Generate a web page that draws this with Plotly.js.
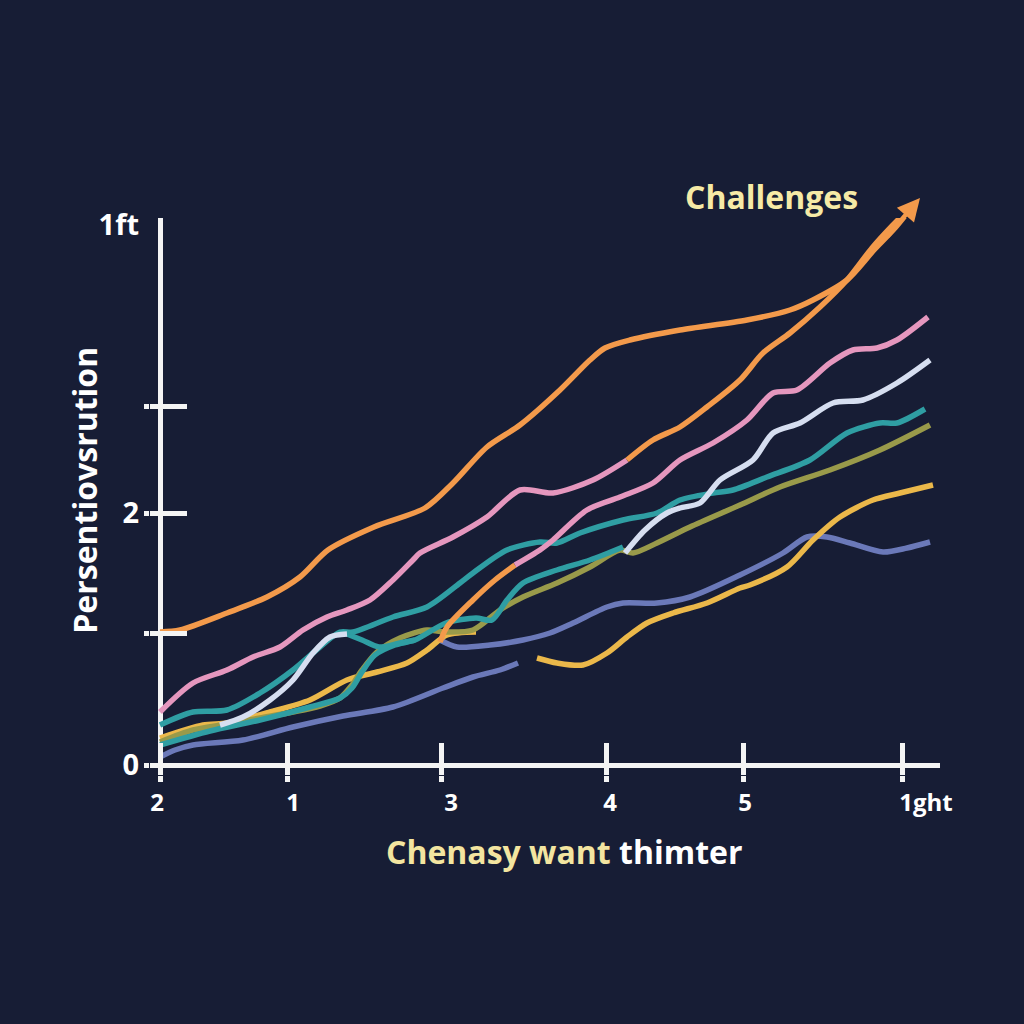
<!DOCTYPE html>
<html>
<head>
<meta charset="utf-8">
<script src="https://cdn.plot.ly/plotly-3.0.1.min.js"></script>
<style>html,body{margin:0;padding:0;background:#171d35;}#chart{width:1024px;height:1024px;}</style>
</head>
<body>
<div id="chart"></div>
<script>
// ---- data ----
const orangeAx = [0, 0.20, 0.67, 1.07, 1.40, 1.68, 2.14, 2.65, 2.93, 3.27, 3.60, 4.00, 4.30, 4.45, 4.70, 5.20, 5.87, 6.30, 6.53, 6.87, 7.14, 7.35, 7.55];
const orangeAy = [1.33, 1.35, 1.52, 1.68, 1.88, 2.15, 2.38, 2.57, 2.82, 3.18, 3.40, 3.75, 4.05, 4.17, 4.25, 4.35, 4.45, 4.55, 4.65, 4.85, 5.15, 5.37, 5.62];

const orangeBx = [4.67, 4.93, 5.20, 5.47, 5.80, 6.03, 6.30, 6.60, 6.87, 7.12, 7.33, 7.55];
const orangeBy = [3.05, 3.25, 3.38, 3.58, 3.85, 4.12, 4.32, 4.58, 4.85, 5.17, 5.40, 5.62];

const orangeCx = [2.80, 2.87, 3.13, 3.35, 3.55];
const orangeCy = [1.23, 1.38, 1.65, 1.85, 2.00];

const pinkAx = [0, 0.33, 0.67, 0.93, 1.20, 1.43, 1.67, 1.87, 2.10, 2.33, 2.53, 2.60, 2.93, 3.27, 3.60, 3.93, 4.33, 4.67];
const pinkAy = [0.53, 0.82, 0.95, 1.08, 1.18, 1.35, 1.48, 1.55, 1.65, 1.85, 2.05, 2.12, 2.28, 2.48, 2.75, 2.72, 2.85, 3.05];

const pinkBx = [3.55, 3.80, 3.93, 4.27, 4.60, 4.93, 5.20, 5.53, 5.87, 6.13, 6.37, 6.70, 6.93, 7.17, 7.37, 7.68];
const pinkBy = [2.00, 2.15, 2.25, 2.55, 2.68, 2.82, 3.05, 3.22, 3.45, 3.72, 3.75, 4.02, 4.15, 4.17, 4.25, 4.48];

const whiteX = [0.60, 0.83, 1.10, 1.33, 1.53, 1.70, 1.87, null, 4.65, 4.85, 5.07, 5.20, 5.40, 5.60, 5.93, 6.13, 6.40, 6.73, 7.03, 7.37, 7.70];
const whiteY = [0.40, 0.48, 0.65, 0.85, 1.12, 1.28, 1.31, null, 2.12, 2.35, 2.52, 2.57, 2.62, 2.85, 3.05, 3.32, 3.42, 3.62, 3.65, 3.82, 4.05];

const tealAx = [0, 0.33, 0.67, 1.00, 1.33, 1.60, 1.80, 1.93, 2.33, 2.67, 3.00, 3.13, 3.47, 3.80, 3.97, 4.20, 4.63, 4.97, 5.20, 5.53, 5.73, 6.07, 6.50, 6.87, 7.20, 7.37, 7.65];
const tealAy = [0.40, 0.53, 0.55, 0.72, 0.95, 1.18, 1.33, 1.33, 1.48, 1.58, 1.82, 1.92, 2.15, 2.23, 2.22, 2.32, 2.45, 2.52, 2.65, 2.72, 2.75, 2.88, 3.05, 3.32, 3.42, 3.42, 3.56];

const tealBx = [0, 0.50, 1.00, 1.50, 1.80, 1.92, 2.02, 2.15, 2.35, 2.55, 2.86, 3.16, 3.32, 3.47, 3.63, 3.97, 4.30, 4.63];
const tealBy = [0.20, 0.34, 0.45, 0.58, 0.67, 0.77, 0.93, 1.10, 1.20, 1.25, 1.42, 1.47, 1.45, 1.65, 1.82, 1.95, 2.05, 2.18];

const tealCx = [1.87, 2.02, 2.19, 2.40, 2.55];
const tealCy = [1.31, 1.25, 1.18, 1.22, 1.25];

const oliveX = [0, 0.33, 0.67, 1.00, 1.33, 1.60, 1.80, 1.92, 2.02, 2.17, 2.40, 2.67, 2.85, 3.13, 3.40, 3.63, 3.97, 4.30, 4.60, 4.73, 4.97, 5.30, 5.80, 6.20, 6.70, 7.20, 7.70];
const oliveY = [0.23, 0.35, 0.41, 0.47, 0.53, 0.59, 0.67, 0.80, 0.95, 1.13, 1.27, 1.35, 1.33, 1.35, 1.55, 1.68, 1.82, 1.98, 2.15, 2.12, 2.22, 2.38, 2.60, 2.78, 2.95, 3.15, 3.40];

const yellowAx = [0, 0.43, 0.67, 1.10, 1.50, 1.87, 2.17, 2.47, 2.67, 2.87, 3.16];
const yellowAy = [0.27, 0.40, 0.42, 0.53, 0.65, 0.85, 0.93, 1.02, 1.15, 1.30, 1.33];

const yellowBx = [3.77, 3.97, 4.23, 4.47, 4.67, 4.87, 5.13, 5.47, 5.80, 5.90, 6.27, 6.53, 6.80, 7.13, 7.40, 7.73];
const yellowBy = [1.07, 1.02, 1.00, 1.12, 1.28, 1.42, 1.52, 1.62, 1.77, 1.80, 1.98, 2.25, 2.48, 2.65, 2.72, 2.80];

const blueAx = [0, 0.15, 0.33, 0.83, 1.33, 1.83, 2.33, 2.83, 3.13, 3.40, 3.58];
const blueAy = [0.08, 0.15, 0.20, 0.25, 0.38, 0.49, 0.58, 0.77, 0.88, 0.95, 1.02];

const blueBx = [2.80, 2.97, 3.30, 3.63, 3.90, 4.13, 4.47, 4.63, 4.97, 5.30, 5.80, 6.23, 6.47, 6.67, 6.90, 7.23, 7.47, 7.70];
const blueBy = [1.25, 1.18, 1.20, 1.25, 1.32, 1.42, 1.58, 1.62, 1.62, 1.68, 1.90, 2.12, 2.28, 2.28, 2.22, 2.13, 2.17, 2.23];

// tick labels
const xLabelVals = [-0.03, 1.33, 2.91, 4.50, 5.85, 7.66];
const xLabelText = ['2', '1', '3', '4', '5', '1ght'];
const xMarkVals = [0, 1.27, 2.81, 4.46, 5.83, 7.42];
const yLabelVals = [0, 2.52, 5.40];
const yLabelText = ['0', '2', '1ft'];
const yMarkVals = [0, 1.32, 2.52, 3.59];

const titleText = 'Challenges';
const yTitle = 'Persentiovsrution';
const xTitleA = 'Chenasy want';
const xTitleB = 'thimter';

// ---- styles ----
const BG = '#171d35';
const AXC = '#f4f4f4';
const C = {
  orange: '#f39a4b', pink: '#e597be', white: '#d6def0', teal: '#2f9ea3',
  olive: '#999a4a', yellow: '#ebb84a', blue: '#6b79b9'
};
const FONT = 'Open Sans, Noto Sans, sans-serif';
const LW = 5.5;

function line(x, y, color) {
  return {
    x: x, y: y, type: 'scatter', mode: 'lines', connectgaps: false,
    line: {color: color, width: LW, shape: 'spline', smoothing: 0.8},
    hoverinfo: 'skip', showlegend: false
  };
}
function holder(xa, ya) {
  return {x: [null], y: [null], xaxis: xa, yaxis: ya, type: 'scatter', mode: 'lines',
          hoverinfo: 'skip', showlegend: false};
}

const traces = [
  holder('x2', 'y'), holder('x3', 'y'), holder('x', 'y2'), holder('x', 'y3'),
  line(blueAx, blueAy, C.blue),
  line(blueBx, blueBy, C.blue),
  line(yellowAx, yellowAy, C.yellow),
  line(oliveX, oliveY, C.olive),
  line(tealBx, tealBy, C.teal),
  line(tealCx, tealCy, C.teal),
  line(yellowBx, yellowBy, C.yellow),
  line(tealAx, tealAy, C.teal),
  line(whiteX, whiteY, C.white),
  line(orangeCx, orangeCy, C.orange),
  line(pinkAx, pinkAy, C.pink),
  line(pinkBx, pinkBy, C.pink),
  line(orangeBx, orangeBy, C.orange),
  line(orangeAx, orangeAy, C.orange)
];

const XR = [-0.1, 7.8];
const YR = [-0.1, 5.47];

const tickAxis = (extra) => Object.assign({
  showgrid: false, zeroline: false, showline: false, showticklabels: false,
  tickwidth: 5, tickcolor: AXC
}, extra);

const layout = {
  width: 1024, height: 1024,
  paper_bgcolor: BG, plot_bgcolor: BG,
  margin: {l: 150, r: 84, t: 218, b: 249, pad: 0},
  showlegend: false,
  xaxis: {
    range: XR, showgrid: false, showline: false,
    zeroline: true, zerolinecolor: AXC, zerolinewidth: 5,
    tickvals: xLabelVals, ticktext: xLabelText, ticks: '',
    tickfont: {family: FONT, size: 24, color: '#ffffff', weight: 'bold'},
    ticklabelstandoff: 11
  },
  xaxis2: tickAxis({range: XR, overlaying: 'x', anchor: 'y', side: 'bottom',
    tickvals: xMarkVals, ticks: 'inside', ticklen: 32}),
  xaxis3: tickAxis({range: XR, overlaying: 'x', anchor: 'y', side: 'bottom',
    tickvals: xMarkVals, ticks: 'outside', ticklen: 6}),
  yaxis: {
    range: YR, showgrid: false, showline: false,
    zeroline: true, zerolinecolor: AXC, zerolinewidth: 5,
    tickvals: yLabelVals, ticktext: yLabelText, ticks: '',
    tickfont: {family: FONT, size: 29, color: '#ffffff', weight: 'bold'},
    ticklabelstandoff: 10
  },
  yaxis2: tickAxis({range: YR, overlaying: 'y', anchor: 'x', side: 'left',
    tickvals: yMarkVals, ticks: 'inside', ticklen: 37}),
  yaxis3: tickAxis({range: YR, overlaying: 'y', anchor: 'x', side: 'left',
    tickvals: yMarkVals, ticks: 'outside', ticklen: 5}),
  annotations: [
    {
      text: titleText, xref: 'paper', yref: 'paper', x: 0.787, y: 1.038,
      showarrow: false, xanchor: 'center', yanchor: 'middle',
      font: {family: FONT, size: 32, color: '#f6eaa6', weight: 'bold'}
    },
    {
      text: '', xref: 'paper', yref: 'paper', x: 0.9747, y: 1.036,
      showarrow: true, ax: -34, ay: 40, arrowhead: 2, arrowsize: 1.0,
      arrowwidth: 4.5, arrowcolor: C.orange, standoff: 0
    },
    {
      text: yTitle, xref: 'paper', yref: 'paper', x: -0.0823, y: 0.512,
      showarrow: false, textangle: -90, xanchor: 'center', yanchor: 'middle',
      font: {family: FONT, size: 32, color: '#ffffff', weight: 'bold'}
    },
    {
      text: '<span style="color:#f3e5a0">' + xTitleA + '</span> ' + xTitleB,
      xref: 'paper', yref: 'paper', x: 0.525, y: -0.138,
      showarrow: false, xanchor: 'center', yanchor: 'middle',
      font: {family: FONT, size: 32, color: '#ffffff', weight: 'bold'}
    }
  ]
};

Plotly.newPlot('chart', traces, layout, {staticPlot: true, displayModeBar: false});
</script>
</body>
</html>
